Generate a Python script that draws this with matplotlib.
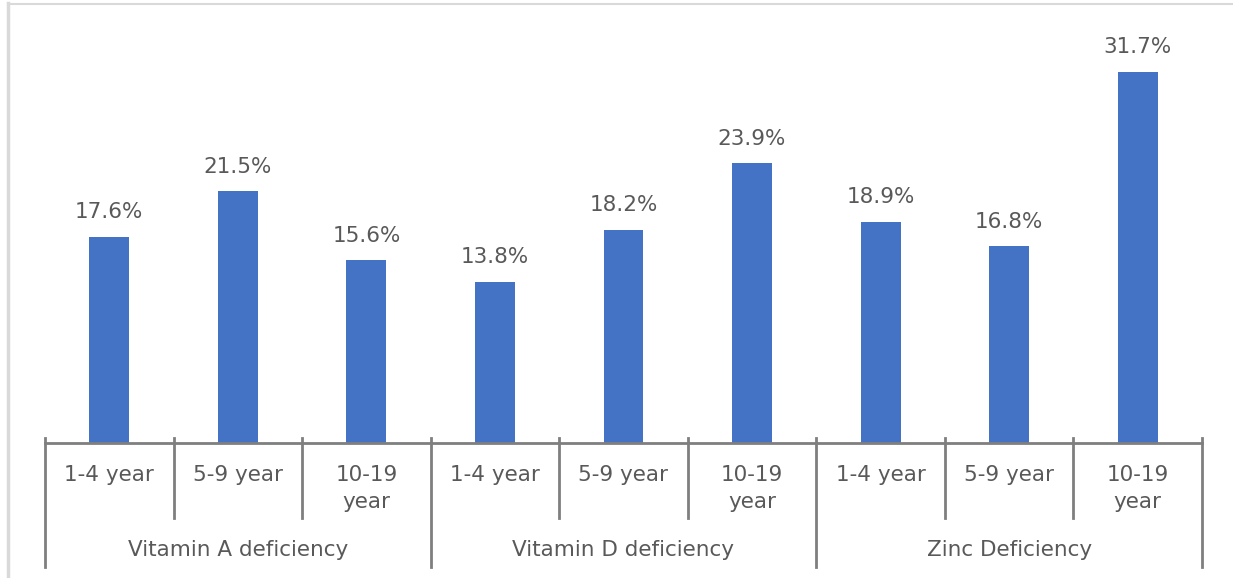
import matplotlib.pyplot as plt
from matplotlib.lines import Line2D

# --- data ---
age_groups = ["1-4 year", "5-9 year", "10-19\nyear"]
deficiencies = ["Vitamin A deficiency", "Vitamin D deficiency", "Zinc Deficiency"]
values = [17.6, 21.5, 15.6, 13.8, 18.2, 23.9, 18.9, 16.8, 31.7]

bar_color = "#4472C4"
text_color = "#595959"
line_color = "#7f7f7f"

plt.rcParams["font.family"] = ["DejaVu Sans"]
fs = 15.5

W, H = 1233, 578
fig = plt.figure(figsize=(W / 100, H / 100), dpi=100)
ax_top, ax_bot = 10, 443
ax = fig.add_axes([45 / W, 1 - ax_bot / H, (1202 - 45) / W, (ax_bot - ax_top) / H])
ax_h = ax_bot - ax_top

x = list(range(len(values)))
ax.bar(x, values, width=0.31, color=bar_color)
ax.set_xlim(-0.5, len(values) - 0.5)
ax.set_ylim(0, 37)

# data labels
for xi, v in zip(x, values):
    ax.annotate(f"{v}%", (xi, v), xytext=(0, 10.5), textcoords="offset points",
                ha="center", va="bottom", fontsize=fs, color=text_color)

for s in ["top", "right", "left"]:
    ax.spines[s].set_visible(False)
ax.spines["bottom"].set_color(line_color)
ax.spines["bottom"].set_linewidth(2)
ax.set_xticks([])
ax.set_yticks([])

trans = ax.get_xaxis_transform()
n_age = len(age_groups)

# first-level labels and separators
for i in range(len(values)):
    ax.text(i, -22 / ax_h, age_groups[i % n_age], transform=trans, ha="center",
            va="top", fontsize=fs, color=text_color, linespacing=1.45)
for b in range(len(values) + 1):
    edge = b - 0.5
    low = -124 / ax_h if b % n_age == 0 else -75 / ax_h
    ax.add_line(Line2D([edge, edge], [5 / ax_h, low], transform=trans,
                       color=line_color, lw=2, clip_on=False))

# second-level labels
for g, name in enumerate(deficiencies):
    center = g * n_age + (n_age - 1) / 2
    ax.text(center, -107 / ax_h, name, transform=trans, ha="center", va="center",
            fontsize=fs, color=text_color)

# light frame on the left/top
fig.add_artist(Line2D([7.5 / W, 7.5 / W], [0, 1 - 3 / H], transform=fig.transFigure,
                      color="#d9d9d9", lw=2.5))
fig.add_artist(Line2D([7.5 / W, 1], [1 - 3.5 / H, 1 - 3.5 / H], transform=fig.transFigure,
                      color="#d9d9d9", lw=1.5))

fig.savefig("out.png", dpi=100)
